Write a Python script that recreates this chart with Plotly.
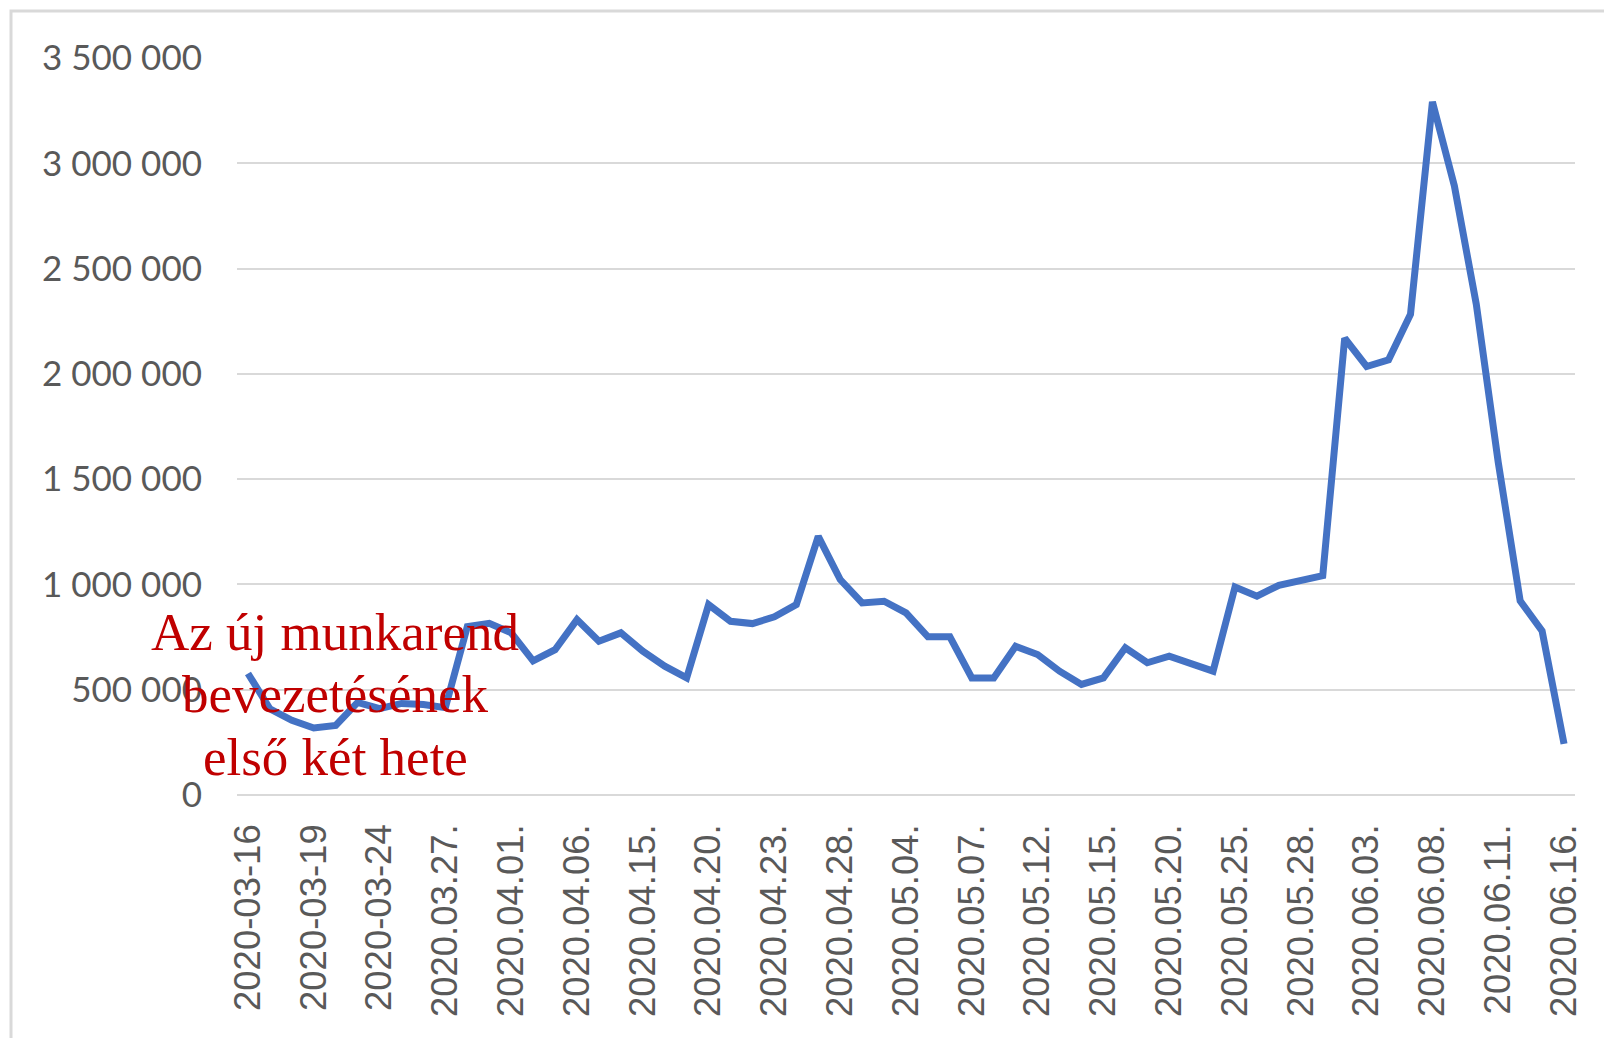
import plotly.graph_objects as go

# ---- data ----
dates = [
    "2020-03-16", "2020-03-17", "2020-03-18", "2020-03-19", "2020-03-20", "2020-03-23",
    "2020-03-24", "2020-03-25", "2020-03-26", "2020.03.27.", "2020.03.30.", "2020.03.31.",
    "2020.04.01.", "2020.04.02.", "2020.04.03.", "2020.04.06.", "2020.04.08.", "2020.04.14.",
    "2020.04.15.", "2020.04.16.", "2020.04.17.", "2020.04.20.", "2020.04.21.", "2020.04.22.",
    "2020.04.23.", "2020.04.24.", "2020.04.27.", "2020.04.28.", "2020.04.29.", "2020.04.30.",
    "2020.05.04.", "2020.05.05.", "2020.05.06.", "2020.05.07.", "2020.05.08.", "2020.05.11.",
    "2020.05.12.", "2020.05.13.", "2020.05.14.", "2020.05.15.", "2020.05.18.", "2020.05.19.",
    "2020.05.20.", "2020.05.21.", "2020.05.22.", "2020.05.25.", "2020.05.26.", "2020.05.27.",
    "2020.05.28.", "2020.05.29.", "2020.06.02.", "2020.06.03.", "2020.06.04.", "2020.06.05.",
    "2020.06.08.", "2020.06.09.", "2020.06.10.", "2020.06.11.", "2020.06.12.", "2020.06.15.",
    "2020.06.16.",
]

values = [
    577000, 409000, 355000, 318000, 330000, 440000, 410000, 435000, 430000, 415000,
    800000, 815000, 770000, 637000, 690000, 833000, 730000, 770000, 683000, 612000,
    556000, 904000, 825000, 814000, 846000, 904000, 1228000, 1023000, 912000, 920000,
    865000, 751000, 751000, 556000, 556000, 706000, 667000, 588000, 525000, 556000,
    699000, 628000, 659000, 620000, 588000, 988000, 944000, 996000, 1015000, 1042000,
    2169000, 2035000, 2067000, 2283000, 3292000, 2893000, 2330000, 1580000, 922000, 779000,
    243000,
]

tick_labels = [
    "2020-03-16", "2020-03-19", "2020-03-24", "2020.03.27.", "2020.04.01.", "2020.04.06.",
    "2020.04.15.", "2020.04.20.", "2020.04.23.", "2020.04.28.", "2020.05.04.", "2020.05.07.",
    "2020.05.12.", "2020.05.15.", "2020.05.20.", "2020.05.25.", "2020.05.28.", "2020.06.03.",
    "2020.06.08.", "2020.06.11.", "2020.06.16.",
]

y_ticks = [0, 500000, 1000000, 1500000, 2000000, 2500000, 3000000, 3500000]

note_lines = ["Az új munkarend", "bevezetésének", "első két hete"]

# ---- figure ----
W, H = 1604, 1030
L, R, T, B = 229, 37, 50, 243
pw, ph = W - L - R, H - T - B

fig = go.Figure()
fig.add_trace(go.Scatter(
    x=dates, y=values, mode="lines",
    line=dict(color="#4472C4", width=7),
    hoverinfo="x+y", showlegend=False,
))

def px_x(p):
    return (p - L) / pw

def px_y(p):
    return (H - B - p) / ph

# outer chart-area border
fig.add_shape(type="rect", xref="paper", yref="paper",
              x0=px_x(3), x1=px_x(1630), y0=px_y(1040), y1=px_y(3),
              line=dict(color="#d9d9d9", width=3), fillcolor="rgba(0,0,0,0)", layer="below")

for txt, yc in zip(note_lines, [624, 686, 749]):
    fig.add_annotation(text=txt, xref="paper", yref="paper",
                       x=px_x(327), y=px_y(yc), xanchor="center", yanchor="middle",
                       showarrow=False,
                       font=dict(family="Liberation Serif, Times New Roman, serif",
                                 size=53, color="#C00000"))

fig.update_layout(
    width=W, height=H,
    margin=dict(l=L, r=R, t=T, b=B, pad=0),
    paper_bgcolor="white", plot_bgcolor="white",
    separators=", ",
    font=dict(family="Lato, Liberation Sans, sans-serif", color="#595959"),
)

fig.update_xaxes(
    type="category", categoryorder="array", categoryarray=dates,
    tickmode="array", tickvals=tick_labels, ticktext=tick_labels,
    tickangle=-90, ticks="", ticklabelstandoff=21,
    tickfont=dict(family="Liberation Sans, Arial, sans-serif", size=36.5, color="#595959"),
    showgrid=False, showline=False, zeroline=False,
    range=[-0.5, len(dates) - 0.5],
)

fig.update_yaxes(
    range=[0, 3500000], tickmode="array", tickvals=y_ticks,
    tickformat=",d", ticks="", ticklabelstandoff=34,
    tickfont=dict(family="Lato, sans-serif", size=35, color="#595959"),
    showgrid=True, gridcolor="#d9d9d9", gridwidth=1.5,
    zeroline=True, zerolinecolor="#d9d9d9", zerolinewidth=1.5,
    showline=False,
)

fig.write_html("out.html")
